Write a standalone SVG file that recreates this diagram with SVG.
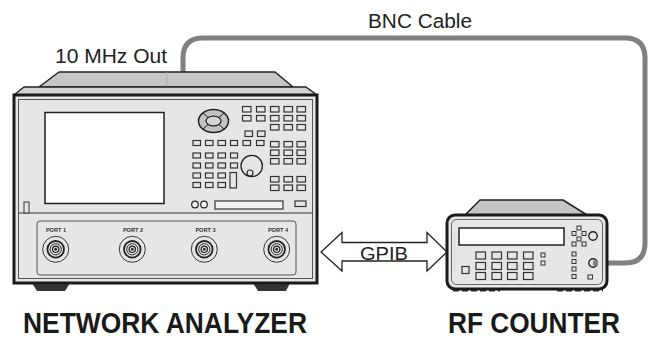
<svg xmlns="http://www.w3.org/2000/svg" width="649" height="338" viewBox="0 0 649 338">
<style>
.txt{font-family:"Liberation Sans",Arial,sans-serif;fill:#222}
.title{font-family:"Liberation Sans",Arial,sans-serif;font-weight:bold;fill:#1a1a1a;font-size:29px}
.port{font-family:"Liberation Sans",Arial,sans-serif;font-weight:bold;fill:#333;font-size:5.6px;text-anchor:middle}
.k{fill:#e6e6e6;stroke:#333;stroke-width:1.2}
.ks{fill:#e6e6e6;stroke:#333;stroke-width:1}
.panel{fill:#e6e6e6}
.dk{stroke:#222;fill:none}
.cable{fill:none;stroke:#808080;stroke-width:5;stroke-linecap:butt}
</style>
<rect width="649" height="338" fill="#fff"/>

<g id="connectors">
  <path id="bnc-cable" class="cable" d="M183,73 V58 Q183,38 203,38 H625 Q645,38 645,58 V243 Q645,263 625,263 H596"/>
  <polygon id="gpib-arrow" points="321,252 342,232.5 342,242.5 427,242.5 427,232.5 447,252 427,271 427,261 342,261 342,271" fill="#fff" stroke="#222" stroke-width="1.3" stroke-linejoin="miter"/>
  <text class="txt" x="360" y="259.5" font-size="19" textLength="48" lengthAdjust="spacingAndGlyphs">GPIB</text>
  <text class="txt" x="368" y="28" font-size="20" textLength="104" lengthAdjust="spacingAndGlyphs">BNC Cable</text>
</g>

<g id="network-analyzer">
  <!-- feet -->
  <polygon points="32,283 70,283 65,291 37,291" fill="#333"/>
  <polygon points="253,283 290,283 286,291 258,291" fill="#333"/>
  <!-- lid -->
  <polygon points="59,72 275,72 293,87 39,87" fill="#c6c6c6" stroke="#222" stroke-width="1.5" stroke-linejoin="round"/>
  <line x1="167" y1="72" x2="167" y2="94" stroke="#aaa" stroke-width="0.8"/>
  <!-- top band -->
  <polygon points="14,95 24,87 306,87 317,95" fill="#d2d2d2" stroke="#222" stroke-width="1.5" stroke-linejoin="round"/>
  <!-- front panel -->
  <rect x="14" y="95" width="303" height="188" class="panel" stroke="#1a1a1a" stroke-width="3"/>
  <rect x="18.5" y="99.5" width="294" height="179" fill="none" stroke="#555" stroke-width="1"/>
  <line x1="18.5" y1="213" x2="312.5" y2="213" stroke="#333" stroke-width="1.2"/>
  <rect x="24" y="202" width="5" height="11" class="ks"/>
  <!-- screen -->
  <rect x="45" y="112.5" width="119" height="91" fill="#fff" stroke="#222" stroke-width="1.5"/>
  <!-- nav ellipse -->
  <ellipse cx="213.5" cy="121" rx="15" ry="11.5" fill="#c2c2c2" stroke="#222" stroke-width="1.5"/>
  <g stroke="#222" stroke-width="1">
    <line x1="208.2" y1="117.6" x2="202.9" y2="112.9"/>
    <line x1="218.8" y1="117.6" x2="224.1" y2="112.9"/>
    <line x1="208.2" y1="124.4" x2="202.9" y2="129.1"/>
    <line x1="218.8" y1="124.4" x2="224.1" y2="129.1"/>
  </g>
  <ellipse cx="213.5" cy="121" rx="7.5" ry="4.8" fill="#d6d6d6" stroke="#222" stroke-width="1.2"/>
  <!-- top key block -->
  <g class="k">
    <rect x="242.5" y="106.5" width="8.5" height="5.5"/><rect x="256.5" y="106.5" width="8.5" height="5.5"/><rect x="270.5" y="106.5" width="8.5" height="5.5"/><rect x="284" y="106.5" width="8.5" height="5.5"/><rect x="297" y="106.5" width="8.5" height="5.5"/>
    <rect x="242.5" y="115.5" width="8.5" height="5.5"/><rect x="256.5" y="115.5" width="8.5" height="5.5"/><rect x="270.5" y="115.5" width="8.5" height="5.5"/><rect x="284" y="115.5" width="8.5" height="5.5"/><rect x="297" y="115.5" width="8.5" height="5.5"/>
    <rect x="270.5" y="124.5" width="8.5" height="5.5"/><rect x="284" y="124.5" width="8.5" height="5.5"/><rect x="297" y="124.5" width="8.5" height="5.5"/>
    <rect x="245" y="131" width="7.5" height="5.5"/><rect x="257.5" y="131" width="7.5" height="5.5"/>
    <!-- row of 6 -->
    <rect x="193" y="140.5" width="7.5" height="5"/><rect x="205.5" y="140.5" width="7.5" height="5"/><rect x="218" y="140.5" width="7.5" height="5"/><rect x="230.5" y="140.5" width="7" height="5"/><rect x="243" y="140.5" width="7.5" height="5"/><rect x="256.5" y="140.5" width="7.5" height="5"/>
    <!-- right 3x3 -->
    <rect x="270.5" y="141.5" width="8.5" height="5.5"/><rect x="284" y="141.5" width="8.5" height="5.5"/><rect x="297" y="141.5" width="8.5" height="5.5"/>
    <rect x="270.5" y="150" width="8.5" height="5.5"/><rect x="284" y="150" width="8.5" height="5.5"/><rect x="297" y="150" width="8.5" height="5.5"/>
    <rect x="270.5" y="158.5" width="8.5" height="5.5"/><rect x="284" y="158.5" width="8.5" height="5.5"/><rect x="297" y="158.5" width="8.5" height="5.5"/>
    <!-- left block -->
    <rect x="193" y="153" width="7.5" height="5"/><rect x="205.5" y="153" width="7.5" height="5"/><rect x="218" y="153" width="7.5" height="5"/><rect x="230.5" y="153" width="7" height="5"/>
    <rect x="193" y="163" width="7.5" height="5"/><rect x="205.5" y="163" width="7.5" height="5"/><rect x="218" y="163" width="7.5" height="5"/><rect x="230.5" y="163" width="7" height="5"/>
    <rect x="193" y="173" width="7.5" height="5"/><rect x="205.5" y="173" width="7.5" height="5"/><rect x="218" y="173" width="7.5" height="5"/>
    <rect x="193" y="182.5" width="7.5" height="5"/><rect x="205.5" y="182.5" width="7.5" height="5"/><rect x="218" y="182.5" width="7.5" height="5"/>
    <rect x="230" y="172.5" width="6.5" height="15.5"/>
    <!-- lower right 3x2 -->
    <rect x="270.5" y="176.5" width="8.5" height="5.5"/><rect x="284" y="176.5" width="8.5" height="5.5"/><rect x="297" y="176.5" width="8.5" height="5.5"/>
    <rect x="270.5" y="185" width="8.5" height="5.5"/><rect x="284" y="185" width="8.5" height="5.5"/><rect x="297" y="185" width="8.5" height="5.5"/>
    <!-- bottom strip -->
    <rect x="215" y="201" width="68" height="8" fill="#f4f4f4"/>
    <rect x="295" y="201" width="11" height="5.5"/>
  </g>
  <circle cx="251.7" cy="166" r="10.7" fill="#e6e6e6" stroke="#222" stroke-width="1.3"/>
  <circle cx="250" cy="173" r="3" fill="#e6e6e6" stroke="#222" stroke-width="1.1"/>
  <circle cx="195" cy="204.5" r="3.3" fill="#f4f4f4" stroke="#222" stroke-width="1.2"/>
  <circle cx="204" cy="204.5" r="3.3" fill="#f4f4f4" stroke="#222" stroke-width="1.2"/>
  <!-- port panel -->
  <rect x="37" y="221" width="259" height="54" rx="3" fill="#e6e6e6" stroke="#555" stroke-width="1"/>
  <text class="port" x="56" y="232">PORT 1</text>
  <text class="port" x="133" y="232">PORT 2</text>
  <text class="port" x="205.5" y="232">PORT 3</text>
  <text class="port" x="278" y="232">PORT 4</text>
  <g id="ports" fill="none" stroke="#222">
    <g transform="translate(55.7,249.3)"><circle r="13" stroke-width="0.9"/><circle r="8.3" stroke-width="1.8"/><circle r="5.6" stroke-width="1"/><circle r="3.2" stroke-width="1.2"/><circle r="1.2" fill="#222" stroke-width="0.5"/></g>
    <g transform="translate(132.3,249.3)"><circle r="13" stroke-width="0.9"/><circle r="8.3" stroke-width="1.8"/><circle r="5.6" stroke-width="1"/><circle r="3.2" stroke-width="1.2"/><circle r="1.2" fill="#222" stroke-width="0.5"/></g>
    <g transform="translate(204.3,249.3)"><circle r="13" stroke-width="0.9"/><circle r="8.3" stroke-width="1.8"/><circle r="5.6" stroke-width="1"/><circle r="3.2" stroke-width="1.2"/><circle r="1.2" fill="#222" stroke-width="0.5"/></g>
    <g transform="translate(276.7,249.3)"><circle r="13" stroke-width="0.9"/><circle r="8.3" stroke-width="1.8"/><circle r="5.6" stroke-width="1"/><circle r="3.2" stroke-width="1.2"/><circle r="1.2" fill="#222" stroke-width="0.5"/></g>
  </g>
  <text class="txt" x="55" y="63" font-size="20" textLength="112" lengthAdjust="spacingAndGlyphs">10 MHz Out</text>
  <text class="title" x="23" y="333" textLength="284" lengthAdjust="spacingAndGlyphs">NETWORK ANALYZER</text>
</g>

<g id="rf-counter">
  <line x1="453" y1="290" x2="500" y2="290" stroke="#333" stroke-width="3" stroke-dasharray="6 3"/>
  <line x1="557" y1="290" x2="603" y2="290" stroke="#333" stroke-width="3" stroke-dasharray="6 3"/>
  <polygon points="480,200 563,200 587,215 465,215" fill="#c4c4c4" stroke="#222" stroke-width="1.5" stroke-linejoin="round"/>
  <rect x="447" y="215" width="160" height="74" rx="8" fill="#e6e6e6" stroke="#1a1a1a" stroke-width="3"/>
  <rect x="451.5" y="219.5" width="151" height="65" rx="5" fill="none" stroke="#666" stroke-width="1"/>
  <rect x="459" y="228" width="105" height="17" fill="#fff" stroke="#222" stroke-width="1.5"/>
  <g class="k">
    <rect x="476" y="252" width="9.5" height="7"/><rect x="492" y="252" width="9.5" height="7"/><rect x="507.5" y="252" width="9.5" height="7"/><rect x="523.5" y="252" width="9.5" height="7"/>
    <rect x="476" y="262.5" width="9.5" height="7"/><rect x="492" y="262.5" width="9.5" height="7"/><rect x="507.5" y="262.5" width="9.5" height="7"/><rect x="523.5" y="262.5" width="9.5" height="7"/>
    <rect x="476" y="272.5" width="9.5" height="7"/><rect x="492" y="272.5" width="9.5" height="7"/><rect x="507.5" y="272.5" width="9.5" height="7"/><rect x="523.5" y="272.5" width="9.5" height="7"/>
    <rect x="462" y="266.5" width="7" height="7"/>
  </g>
  <g class="ks">
    <rect x="541" y="253" width="4" height="4"/><rect x="541" y="261" width="4" height="4"/>
    <rect x="577" y="226" width="4" height="4"/><rect x="572" y="231.5" width="4" height="4"/><rect x="582" y="231.5" width="4" height="4"/><rect x="577" y="237" width="4" height="4"/><rect x="572" y="242" width="4" height="4"/><rect x="582" y="242" width="4" height="4"/>
    <rect x="572" y="252" width="4" height="4"/><rect x="572" y="259.5" width="4" height="4"/><rect x="572" y="267" width="4" height="4"/><rect x="572" y="274.5" width="4" height="4"/>
    <rect x="588" y="275" width="4.5" height="4"/>
  </g>
  <circle cx="593" cy="236" r="4.2" fill="#e6e6e6" stroke="#222" stroke-width="1.4"/>
  <circle cx="593" cy="263" r="4.2" fill="#e6e6e6" stroke="#222" stroke-width="1.4"/>
  <line x1="593" y1="263" x2="598" y2="263" stroke="#808080" stroke-width="5"/>
  <text class="title" x="448" y="333" textLength="172" lengthAdjust="spacingAndGlyphs">RF COUNTER</text>
</g>
</svg>
